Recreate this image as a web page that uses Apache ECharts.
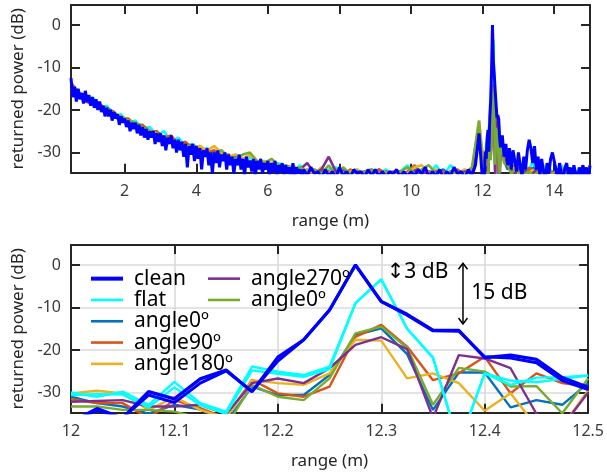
<!DOCTYPE html>
<html><head><meta charset="utf-8">
<script src="https://cdn.jsdelivr.net/npm/echarts@6/dist/echarts.min.js"></script>
<style>html,body{margin:0;padding:0;background:#fff}#c{width:607px;height:476px}</style>
</head><body><div id="c"></div>
<script>
// ---------- DATA ----------
// zoomed range bins (m), bottom panel
const peakX = [12, 12.025, 12.05, 12.075, 12.1, 12.125, 12.15, 12.175, 12.2, 12.225, 12.25, 12.275, 12.3, 12.325, 12.35, 12.375, 12.4, 12.425, 12.45, 12.475, 12.5];
const peakClean  = [-37, -33.8, -36, -29.8, -31.5, -26.8, -24.7, -29.8, -21.7, -17.6, -10.6, 0, -8.6, -11.6, -15.3, -15.4, -21.8, -21.2, -22.2, -26.5, -28.8];
const peakClean2 = [-37, -34.2, -36, -30.6, -32.4, -27.8, -24.9, -29.8, -22.6, -17.6, -10.6, 0, -8.6, -11.8, -15.5, -15.6, -21.6, -21.9, -23, -27.2, -29.3];
const peakFlat   = [-30, -31, -29.8, -32.9, -27.5, -32.5, -34.5, -23.9, -25.1, -25.9, -23.9, -9.0, -3.4, -15, -21.8, -42.3, -25.5, -28.2, -26.5, -26.4, -26];
const peakFlat2  = [-30.6, -30.4, -30.5, -33.5, -28.8, -33, -35, -24.8, -25.6, -26.3, -24.5, -9.0, -3.4, -15, -21.8, -42.3, -25.5, -27.2, -27.6, -26.8, -26];
const peakA0     = [-31, -32.5, -33.3, -35, -32.9, -34, -37, -28.6, -30.6, -30.6, -25.9, -16.5, -14.9, -21, -34.1, -25.3, -25.3, -33.5, -31.8, -32.9, -27.8];
const peakA90    = [-31.6, -32.5, -32.5, -36, -31.8, -33.7, -36, -27, -30.2, -31, -28.6, -16.9, -14.1, -19.2, -27.1, -25.5, -21.6, -30.2, -25.5, -27.8, -28.6];
const peakA180   = [-30.2, -29.6, -30.2, -34.1, -31.1, -34.1, -36, -27.1, -27.8, -28.2, -25.5, -17.6, -17.8, -26.7, -25.5, -27.8, -34.3, -30.2, -38, -38, -29.5];
const peakA270   = [-32.2, -32, -31.8, -33.3, -33.3, -32.9, -35.1, -27.8, -26.7, -27.8, -24.3, -18.8, -17, -19.8, -36, -21.2, -22, -24.3, -35, -38, -30];
const peakA0b    = [-33.3, -33.3, -34.1, -34.1, -34.5, -36, -38, -28.2, -31, -31.8, -26.7, -16.1, -14.5, -19.5, -32.9, -24.2, -25.1, -28.6, -28.5, -34.9, -26.7];

// full range, top panel: clean from 0.5 m every 0.05 m up to 6.95 m
const cleanHeadA = [
 -12.5, -17, -14.5, -18, -15, -17.5, -16, -18.5, -15.5, -18,
 -16.5, -19, -17, -19.5, -17.5, -20, -18, -20.5, -19, -21.5,
 -19.5, -21.5, -20, -22.5, -20.5, -22, -21, -23.5, -21.5, -23,
 -22, -24, -22.5, -25, -23, -24.5, -23, -25.5, -23.5, -26,
 -24, -26.5, -24.5, -27, -25, -26.5, -25, -28, -25.5, -27.5,
 -25.5, -28.5, -26, -29.5, -26.5, -28, -26, -29, -27, -30,
 -27, -29.5, -27.5, -31, -28, -33.5, -28.5, -30.5, -28, -32,
 -28.5, -31.5, -29, -34, -29.5, -31, -29, -33, -30, -35,
 -30, -32.5, -29.5, -33.5, -30.5, -32, -30, -34, -30.5, -33,
 -31, -35, -31.5, -33, -30.5, -34, -31.5, -35.5, -31, -33.5,
 -32, -34.5, -31.5, -35.5, -32, -34, -31.5, -35, -32.5, -34,
 -32, -35.5, -32.5, -34.5, -32, -36, -33, -34.5, -32.5, -35.5,
 -33, -35, -33.5, -36, -32.5, -35.5, -33.5, -35, -34, -36];
// clean from 7.0 m every 0.1 m up to 11.9 m
const cleanHeadB = [
 -34, -35.5, -33.5, -35, -34.5, -36, -34, -35.5, -34.5, -36,
 -33.5, -35.5, -34.5, -36, -34, -35, -34.5, -36, -34, -35.5,
 -34, -35.5, -34.5, -36, -34.5, -35, -34, -36, -34.5, -35.5,
 -34.5, -35.5, -34, -35, -33.5, -36, -34.5, -35.5, -34, -36,
 -34.5, -35.5, -33.5, -35, -34.5, -36, -34, -35.5, -33, -25.5];
// clean from 12.55 m every 0.05 m up to 15 m
const cleanTail = [
 -26, -31, -28, -33, -29, -34, -29.5, -32, -34.5, -30,
 -33, -35.5, -31, -34, -29.5, -27, -29, -32.5, -28.5, -34,
 -31, -35.5, -31.5, -34.5, -36, -32.5, -35, -31.5, -30, -32,
 -34, -36, -32.5, -35, -36.5, -33.5, -32.5, -36, -33.5, -36.5,
 -33, -35, -36.5, -33.5, -36, -33, -35.5, -33.5, -36.5, -33];

// other cases: from 0.5 m every 0.2 m up to 11.9 m
const flatHead = [
 -14, -15.5, -17.5, -17, -19.5, -19, -21.5, -21, -23, -22.5,
 -24.5, -24, -26, -25, -27.5, -26.5, -28.5, -28, -29.5, -29,
 -30.5, -29.5, -31.5, -30.5, -32.5, -31, -33, -32, -33.5, -32.5,
 -33.5, -34.5, -33, -35, -34, -35.5, -34, -33.5, -35, -34.5,
 -34, -35.5, -34.5, -35, -34, -35.5, -34.5, -33, -35, -34.5,
 -35, -33, -35.5, -33, -34.5, -35, -34, -26];
const a0Head = [
 -15, -16, -17.5, -17.5, -19.5, -19.5, -20.5, -22, -22.5, -23.5,
 -24, -25, -25.5, -26.5, -26.5, -28, -28, -28.5, -29, -30,
 -30, -30.5, -31, -31, -32, -32, -32.5, -33, -32.5, -33.5,
 -34, -34.5, -35, -34, -35.5, -34.5, -35, -34, -35.5, -34.5,
 -35, -34.5, -35.5, -34, -35, -35.5, -34.5, -35, -34, -35.5,
 -34.5, -35, -34, -35.5, -35, -34.5, -35, -25];
const a90Head = [
 -13.5, -16, -16.5, -18, -18.5, -20, -20.5, -22, -22, -23.5,
 -23.5, -25, -25, -26.5, -26, -28, -27.5, -29, -28.5, -30,
 -29.5, -31, -30.5, -32, -31.5, -32.5, -32, -33.5, -33, -33.5,
 -34.5, -34, -35, -34.5, -35.5, -34, -34.5, -35, -35.5, -34,
 -35, -34.5, -35.5, -34, -35, -34.5, -35.5, -34.5, -33, -35,
 -34.5, -35.5, -34.5, -35, -34, -35.5, -34.5, -24];
const a180Head = [
 -15, -16, -17.5, -17.5, -19.5, -20, -21, -22, -22.5, -23.5,
 -24.5, -25, -26, -26.5, -27, -27.5, -28.5, -29, -28.5, -29.5,
 -28.5, -30, -31, -30.5, -31.5, -30.5, -32.5, -32, -32.5, -33,
 -33.5, -33, -34.5, -34, -35, -33.5, -35, -34, -35.5, -34.5,
 -34, -35.5, -34.5, -35, -34.5, -35.5, -34.5, -35, -33.5, -33,
 -35, -34, -35.5, -34.5, -35, -34, -34.5, -22.5];
const a270Head = [
 -16, -16.5, -18, -18.5, -19.5, -20.5, -21.5, -22.5, -23, -24,
 -25, -25.5, -26, -27, -27.5, -28.5, -28.5, -29.5, -30, -30.5,
 -30, -31, -32, -31.5, -32.5, -33, -32, -33.5, -33, -34,
 -33, -34.5, -34, -32.5, -35, -34, -31, -34.5, -34, -35.5,
 -34.5, -35, -34, -35.5, -34.5, -35, -34.5, -35.5, -34.5, -35,
 -35, -34.5, -35.5, -34.5, -35.5, -34.5, -35, -27];
const a0bHead = [
 -15.5, -16, -17.5, -17.5, -19.5, -19.5, -21, -21.5, -22.5, -23,
 -24, -25, -25.5, -26.5, -27, -28, -28.5, -28.5, -29.5, -30,
 -30.5, -29.5, -31, -31.5, -30.5, -30, -32, -32.5, -31.5, -33,
 -33, -34, -33.5, -34.5, -34, -35, -33, -35.5, -33.5, -35,
 -35, -34.5, -34, -35.5, -34.5, -35, -34.5, -33.5, -35, -34,
 -33, -35, -35.5, -34.5, -35.5, -35, -33.5, -22.5];
// other cases: from 12.6 m every 0.1 m up to 15 m
const flatTail = [-31, -33, -32, -34, -33, -35, -33.5, -34, -32, -35, -34, -33, -35.5, -34, -35, -34.5, -33, -35, -35.5, -34.5, -35, -34, -34, -35.5, -34];
const a0Tail   = [-32, -34, -33, -35, -34, -35.5, -34, -35, -33.5, -35, -35.5, -34, -35, -35, -34.5, -35, -34, -35.5, -35.5, -34.5, -35, -35.5, -35, -34.5, -35];
const a90Tail  = [-31.5, -33.5, -34, -33, -35, -34, -35.5, -33.5, -35, -35.5, -34, -35.5, -35, -34.5, -35, -35.5, -34, -35.5, -35, -35, -34.5, -35.5, -35.5, -35, -34];
const a180Tail = [-32, -33, -34.5, -33.5, -35, -34, -35.5, -35, -34, -35, -35.5, -34.5, -35.5, -35, -35, -34, -35.5, -35.5, -34.5, -35, -35, -35.5, -34, -35, -33];
const a270Tail = [-31, -33.5, -34, -35, -33.5, -35, -34.5, -35.5, -35, -34, -35.5, -35, -34.5, -35.5, -35.5, -34, -35, -35, -35.5, -35, -35.5, -35.5, -34.5, -35, -35];
const a0bTail  = [-32.5, -33, -35, -34, -34.5, -35.5, -35, -34.5, -35.5, -35, -34, -35.5, -35.5, -35, -35.5, -35.5, -34.5, -35, -35, -34.5, -35.5, -35.5, -33, -35, -34];

const names = ['clean', 'flat', 'angle0º', 'angle90º', 'angle180º', 'angle270º', 'angle0º\u200b'];
const colors = ['#0000FF', '#00FFFF', '#0072BD', '#D95319', '#EDB120', '#7E2F8E', '#77AC30'];

// ---------- BUILD ----------
function grid(start, step, vals) { return vals.map((v, i) => [Math.round((start + i * step) * 1000) / 1000, v]); }
function zoomed(vals) { return peakX.map((x, i) => [x, vals[i]]); }

const FONT = 'Noto Sans';
const AX = '#262626';
const Y_MIN = -34.76, Y_MAX = 4.7;

function line(name, color, data, xi, yi, w) {
  return { type: 'line', name, data, xAxisIndex: xi, yAxisIndex: yi, symbol: 'none', showSymbol: false,
    lineStyle: { color, width: w }, itemStyle: { color }, clip: true, animation: false, silent: true };
}

const series = [];
// top panel (others first, clean drawn on top)
const topSets = [
  [1, flatHead, peakFlat, flatTail],
  [2, a0Head, peakA0, a0Tail],
  [3, a90Head, peakA90, a90Tail],
  [4, a180Head, peakA180, a180Tail],
  [5, a270Head, peakA270, a270Tail],
  [6, a0bHead, peakA0b, a0bTail]
];
topSets.forEach(([k, h, p, t]) => {
  series.push(line(names[k], colors[k], grid(0.5, 0.2, h).concat(zoomed(p), grid(12.6, 0.1, t)), 0, 0, 2.6));
});
series.push(line(names[0], colors[0],
  grid(0.5, 0.05, cleanHeadA).concat(grid(7.0, 0.1, cleanHeadB), zoomed(peakClean), grid(12.55, 0.05, cleanTail)), 0, 0, 3));

// bottom panel
const botSets = [[2, peakA0], [3, peakA90], [4, peakA180], [6, peakA0b], [5, peakA270]];
botSets.forEach(([k, p]) => series.push(line(names[k], colors[k], zoomed(p), 1, 1, 2.4)));
series.push(line(names[1], colors[1], zoomed(peakFlat2), 1, 1, 2.4));
series.push(line(names[1], colors[1], zoomed(peakFlat), 1, 1, 2.4));
series.push(line(names[0], colors[0], zoomed(peakClean2), 1, 1, 3));
series.push(line(names[0], colors[0], zoomed(peakClean), 1, 1, 3.2));

const labelStyle = { fontFamily: FONT, fontSize: 16, color: '#3a3a3a' };
const nameStyle = { fontFamily: FONT, fontSize: 17, color: '#262626' };
const tick = { show: true, inside: true, length: 9, lineStyle: { color: AX, width: 2 } };
const axLine = { show: true, onZero: false, lineStyle: { color: AX, width: 2 } };
const split = { show: true, lineStyle: { color: '#dadada', width: 1.6 } };

function xMain(gi, min, max, extra) {
  return Object.assign({ type: 'value', gridIndex: gi, position: 'bottom', min, max, axisLine: axLine, axisTick: tick,
    axisLabel: Object.assign({ margin: 11 }, labelStyle), splitLine: { show: false },
    name: 'range (m)', nameLocation: 'middle', nameGap: 40, nameTextStyle: nameStyle }, extra);
}
function xMirror(gi, min, max, extra) {
  return Object.assign({ type: 'value', gridIndex: gi, position: 'top', min, max, axisLine: axLine, axisTick: tick,
    axisLabel: { show: false }, splitLine: { show: false } }, extra);
}
function yMain(gi, showSplit) {
  return { type: 'value', gridIndex: gi, position: 'left', min: Y_MIN, max: Y_MAX, axisLine: axLine, axisTick: tick,
    axisLabel: Object.assign({ margin: 10, showMinLabel: false, showMaxLabel: false }, labelStyle),
    splitLine: showSplit ? split : { show: false },
    name: 'returned power (dB)', nameLocation: 'middle', nameGap: 44, nameTextStyle: nameStyle };
}
function yMirror(gi) {
  return { type: 'value', gridIndex: gi, position: 'right', min: Y_MIN, max: Y_MAX, axisLine: axLine, axisTick: tick,
    axisLabel: { show: false }, splitLine: { show: false } };
}

const legendText = { fontFamily: FONT, fontSize: 21, color: '#000', lineHeight: 21.3, padding: [0, 0, 0, 6] };
const legendCommon = { orient: 'vertical', itemWidth: 32, itemHeight: 4, itemGap: 0, padding: 0,
  textStyle: legendText, selectedMode: false, formatter: n => n.replace('\u200b', ''), backgroundColor: 'transparent' };
const iconThick = 'path://M0,0h32v4h-32z';
const iconThin = 'path://M0,0h32v2.6h-32z';
const legendItems = list => list.map(n => ({ name: n, icon: n === 'clean' ? iconThick : iconThin }));

const chart = echarts.init(document.getElementById('c'), null, { renderer: 'canvas' });
chart.setOption({
  backgroundColor: '#fff',
  animation: false,
  grid: [
    { left: 71, right: 17, top: 5, height: 167.7, containLabel: false },
    { left: 71, right: 17, top: 245, height: 167.7, containLabel: false }
  ],
  xAxis: [
    xMain(0, 0.5, 15, { splitNumber: 7, axisLabel: Object.assign({ margin: 11, showMinLabel: false, showMaxLabel: false }, labelStyle) }),
    xMain(1, 12, 12.5, { interval: 0.1, splitLine: split }),
    xMirror(0, 0.5, 15, { splitNumber: 7 }),
    xMirror(1, 12, 12.5, { interval: 0.1 })
  ],
  yAxis: [yMain(0, false), yMain(1, true), yMirror(0), yMirror(1)],
  legend: [
    Object.assign({ left: 91, top: 268, data: legendItems(names.slice(0, 5)) }, legendCommon),
    Object.assign({ left: 208, top: 268, data: legendItems(names.slice(5)) }, legendCommon)
  ],
  series
});

// ---------- ANNOTATIONS (anchored in data units of the bottom panel) ----------
const ann = { small: [12.311, -1.6], text15: [12.387, -6.7], arrowX: 12.379, arrowTop: 0.4, arrowBot: -13.9 };
const px = v => chart.convertToPixel({ xAxisIndex: 1, yAxisIndex: 1 }, v);
const a1 = px([ann.arrowX, ann.arrowTop]), a2 = px([ann.arrowX, ann.arrowBot]);
const s = px(ann.small), t = px(ann.text15);
const head = 4.5;
chart.setOption({
  graphic: [
    { type: 'line', shape: { x1: a1[0], y1: a1[1], x2: a2[0], y2: a2[1] }, style: { stroke: '#000', lineWidth: 1.5 }, z: 100 },
    { type: 'polyline', shape: { points: [[a1[0] - head, a1[1] + 6], [a1[0], a1[1]], [a1[0] + head, a1[1] + 6]] }, style: { stroke: '#000', lineWidth: 1.5, fill: null }, z: 100 },
    { type: 'polyline', shape: { points: [[a2[0] - head, a2[1] - 6], [a2[0], a2[1]], [a2[0] + head, a2[1] - 6]] }, style: { stroke: '#000', lineWidth: 1.5, fill: null }, z: 100 },
    { type: 'text', x: s[0] - 6, y: s[1], style: { text: '↕3 dB', fontFamily: FONT + ', DejaVu Sans', fontSize: 21, fill: '#000', verticalAlign: 'middle', align: 'left' }, z: 100 },
    { type: 'text', x: t[0], y: t[1], style: { text: '15 dB', fontFamily: FONT, fontSize: 21, fill: '#000', verticalAlign: 'middle', align: 'left' }, z: 100 }
  ]
});
</script></body></html>
